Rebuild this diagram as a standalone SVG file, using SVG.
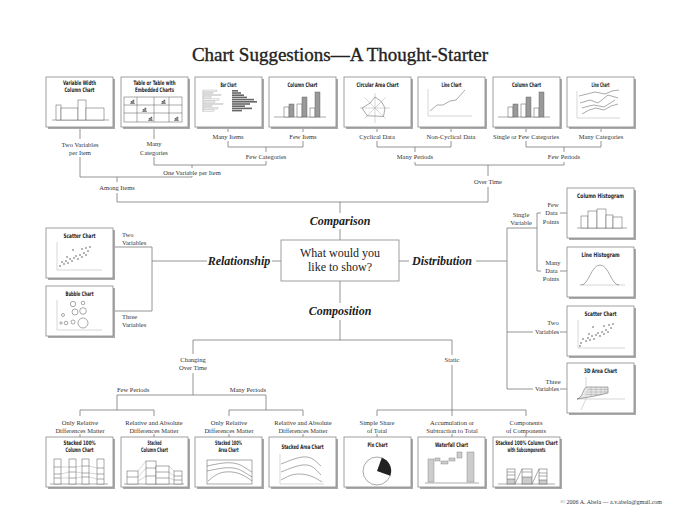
<svg xmlns="http://www.w3.org/2000/svg" xmlns:xlink="http://www.w3.org/1999/xlink" width="680" height="525" viewBox="0 0 680 525">
<style>
.ln{fill:none;stroke:#7a7a7a;stroke-width:0.8}
.lb{font-family:"Liberation Serif",serif;font-size:6.5px;fill:#333;text-anchor:middle}
.ls{font-family:"Liberation Serif",serif;font-size:6.5px;fill:#333}
.tt{font-family:"DejaVu Sans Condensed","DejaVu Sans",sans-serif;font-stretch:condensed;font-weight:bold;font-size:6.2px;fill:#222;text-anchor:middle}
.hd{font-family:"Liberation Serif",serif;font-size:12px;font-weight:bold;font-style:italic;fill:#222;text-anchor:middle}
.q{font-family:"Liberation Serif",serif;font-size:12px;fill:#222;text-anchor:middle}
.c{fill:none;stroke:#555;stroke-width:0.5}
.cf{fill:none;stroke:#999;stroke-width:0.4}
.cw{fill:#fff;stroke:#555;stroke-width:0.5}
.cg{fill:#999;stroke:#555;stroke-width:0.4}
.cl{fill:#ccc;stroke:#777;stroke-width:0.4}
.cd{fill:#666}
.cb{fill:#f2f2f2;stroke:#999;stroke-width:0.3}
.dot{fill:#333}
</style>
<defs>
<g id="fr"><rect x="2" y="2" width="67" height="50" fill="#aaa"/><rect width="67" height="50" fill="#fff" stroke="#888" stroke-width="0.8"/></g>
<g id="mini"><path d="M0 4H5" class="c"/><rect x="1" y="2" width="1.2" height="2" class="cg"/><rect x="2.8" y="0.5" width="1.2" height="3.5" class="cg"/></g>
<g id="colch"><path d="M5 40H57" class="c"/><rect x="15" y="30" width="5" height="10" class="cw"/><rect x="20" y="27" width="5" height="13" class="cg"/><rect x="28" y="27" width="5" height="13" class="cw"/><rect x="33" y="20" width="5" height="20" class="cg"/><rect x="41" y="31" width="5" height="9" class="cw"/><rect x="46" y="15" width="5" height="25" class="cg"/></g>
</defs>
<rect width="680" height="525" fill="#fff"/>
<text x="340" y="61" font-family="'Liberation Serif',serif" font-size="19" fill="#222" stroke="#222" stroke-width="0.35" text-anchor="middle">Chart Suggestions—A Thought-Starter</text>

<g id="connectors">
<path class="ln" d="M80 127V139M154 127V139M228 127V132M303 127V132M377 127V132M451 127V132M526 127V132M601 127V132"/>
<path class="ln" d="M228 141V147H303V141M266 147V152M266 161V165H154V157M192 165V168M80 157V177H192V176M117 177V182M117 193V202H488V187M340 202V213M340 229V240"/>
<path class="ln" d="M377 141V147H451V141M415 147V152M526 141V147H601V141M564 147V152M415 162V165H564V162M488 165V176"/>
<path class="ln" d="M340 281V303M340 320V340M193 340H452M193 340V354M193 373V395M117 395H266M117 395V410M266 395V410M80 416V410H154V416M229 416V410H303V416M80 434V437M154 434V437M229 434V437M303 434V437"/>
<path class="ln" d="M452 340V355M452 365V410M377 416V410H526V416M452 410V416M377 434V437M452 434V437M526 434V437"/>
<path class="ln" d="M113 247H152V311H113M152 261H207M272 261H281"/>
<path class="ln" d="M399 261H409M476 261H507M507 228V389M507 228H537M537 213V271M537 213H541M560 213H567M537 271H541M560 271H567M507 332H533M560 332H567M507 389H533M560 389H567"/>
</g>

<g id="labels">
<text class="lb" x="80" y="147">Two Variables</text><text class="lb" x="80" y="155">per Item</text>
<text class="lb" x="154" y="146">Many</text><text class="lb" x="154" y="155">Categories</text>
<text class="lb" x="228" y="139">Many Items</text>
<text class="lb" x="303" y="139">Few Items</text>
<text class="lb" x="266" y="159">Few Categories</text>
<text class="lb" x="192" y="175">One Variable per Item</text>
<text class="lb" x="117" y="190">Among Items</text>
<text class="lb" x="377" y="139">Cyclical Data</text>
<text class="lb" x="451" y="139">Non-Cyclical Data</text>
<text class="lb" x="526" y="139">Single or Few Categories</text>
<text class="lb" x="601" y="139">Many Categories</text>
<text class="lb" x="415" y="159">Many Periods</text>
<text class="lb" x="564" y="159">Few Periods</text>
<text class="lb" x="488" y="184">Over Time</text>
<text class="ls" x="122" y="237">Two</text><text class="ls" x="122" y="245">Variables</text>
<text class="ls" x="122" y="319">Three</text><text class="ls" x="122" y="327">Variables</text>
<text class="lb" x="521" y="217">Single</text><text class="lb" x="521" y="225">Variable</text>
<text class="lb" x="553" y="207">Few</text><text class="lb" x="551.5" y="215">Data</text><text class="lb" x="551" y="224">Points</text>
<text class="lb" x="553" y="265">Many</text><text class="lb" x="551.5" y="273">Data</text><text class="lb" x="551" y="281">Points</text>
<text class="lb" x="553" y="325">Two</text><text class="lb" x="547" y="334">Variables</text>
<text class="lb" x="553" y="384">Three</text><text class="lb" x="547" y="391">Variables</text>
<text class="lb" x="193" y="362">Changing</text><text class="lb" x="193" y="370">Over Time</text>
<text class="ls" x="117" y="392">Few Periods</text>
<text class="ls" x="266" y="392" text-anchor="end">Many Periods</text>
<text class="lb" x="80" y="425">Only Relative</text><text class="lb" x="80" y="433">Differences Matter</text>
<text class="lb" x="154" y="425">Relative and Absolute</text><text class="lb" x="154" y="433">Differences Matter</text>
<text class="lb" x="229" y="425">Only Relative</text><text class="lb" x="229" y="433">Differences Matter</text>
<text class="lb" x="303" y="425">Relative and Absolute</text><text class="lb" x="303" y="433">Differences Matter</text>
<text class="lb" x="452" y="362">Static</text>
<text class="lb" x="377" y="425">Simple Share</text><text class="lb" x="377" y="433">of Total</text>
<text class="lb" x="452" y="425">Accumulation or</text><text class="lb" x="452" y="433">Subtraction to Total</text>
<text class="lb" x="526" y="425">Components</text><text class="lb" x="526" y="433">of Components</text>
<text class="hd" x="340" y="225">Comparison</text>
<text class="hd" x="239" y="265">Relationship</text>
<text class="hd" x="442" y="265">Distribution</text>
<text class="hd" x="340" y="315">Composition</text>
<text x="662" y="504" font-family="'Liberation Serif',serif" font-size="6" fill="#333" text-anchor="end">© 2006  A. Abela — a.v.abela@gmail.com</text>
</g>

<g id="question">
<rect x="281" y="240" width="118" height="41" fill="#fff" stroke="#888" stroke-width="0.8"/>
<text class="q" x="340" y="257">What would you</text>
<text class="q" x="340" y="271">like to show?</text>
</g>

<g id="variable-width-column" transform="translate(46,77)">
<use href="#fr"/>
<text class="tt" x="33.5" y="8" textLength="33" lengthAdjust="spacingAndGlyphs">Variable Width</text>
<text class="tt" x="33.5" y="15" textLength="30" lengthAdjust="spacingAndGlyphs">Column Chart</text>
<path d="M6 43H63" class="c"/>
<rect x="10" y="28" width="5" height="15" class="cw"/><rect x="15" y="31" width="17" height="12" class="cw"/><rect x="32" y="23" width="8" height="20" class="cw"/><rect x="40" y="31" width="18" height="12" class="cw"/>
</g>

<g id="table-embedded" transform="translate(121,77)">
<use href="#fr"/>
<text class="tt" x="33.5" y="8" textLength="42" lengthAdjust="spacingAndGlyphs">Table or Table with</text>
<text class="tt" x="33.5" y="15" textLength="39" lengthAdjust="spacingAndGlyphs">Embedded Charts</text>
<rect x="3" y="20" width="58" height="25" class="c"/>
<path d="M16 20V45M33 20V45M48 20V45M3 28H61M3 36H61" class="c"/>
<use href="#mini" x="9" y="22.5"/><use href="#mini" x="21" y="30.5"/><use href="#mini" x="40" y="22.5"/><use href="#mini" x="27" y="39.5"/><use href="#mini" x="53" y="39.5"/>
</g>

<g id="bar-chart" transform="translate(195,77)">
<use href="#fr"/>
<text class="tt" x="33.5" y="10" textLength="16" lengthAdjust="spacingAndGlyphs">Bar Chart</text>
<path d="M8 13V35" class="cf"/>
<rect x="8" y="13" width="14" height="1.4" class="cb"/><rect x="8" y="15.2" width="10" height="1.4" class="cb"/><rect x="8" y="17.4" width="18" height="1.4" class="cb"/><rect x="8" y="19.6" width="8" height="1.4" class="cb"/><rect x="8" y="21.8" width="16" height="1.4" class="cb"/><rect x="8" y="24" width="12" height="1.4" class="cb"/><rect x="8" y="26.2" width="20" height="1.4" class="cb"/><rect x="8" y="28.4" width="9" height="1.4" class="cb"/><rect x="8" y="30.6" width="15" height="1.4" class="cb"/><rect x="8" y="32.8" width="11" height="1.4" class="cb"/>
<rect x="37" y="13" width="6" height="1.6" class="cd"/><rect x="37" y="15.2" width="9" height="1.6" class="cd"/><rect x="37" y="17.4" width="12" height="1.6" class="cd"/><rect x="37" y="19.6" width="15" height="1.6" class="cd"/><rect x="37" y="21.8" width="22" height="1.6" class="cd"/><rect x="37" y="24" width="25" height="1.6" class="cd"/><rect x="37" y="26.2" width="18" height="1.6" class="cd"/><rect x="37" y="28.4" width="13" height="1.6" class="cd"/><rect x="37" y="30.6" width="20" height="1.6" class="cd"/><rect x="37" y="32.8" width="10" height="1.6" class="cd"/>
</g>

<g id="column-chart-1" transform="translate(269,77)">
<use href="#fr"/>
<text class="tt" x="33.5" y="10" textLength="30" lengthAdjust="spacingAndGlyphs">Column Chart</text>
<use href="#colch"/>
</g>

<g id="circular-area" transform="translate(344,77)">
<use href="#fr"/>
<text class="tt" x="33.5" y="10" textLength="42" lengthAdjust="spacingAndGlyphs">Circular Area Chart</text>
<path d="M16 31H46M20.4 20.4L41.6 41.6M31 16V46M20.4 41.6L41.6 20.4" class="cf"/>
<polygon points="41,31 39.5,39.5 31,39 23.2,38.8 18,31 26.1,26.1 31,20 37.4,24.6" class="c"/>
</g>

<g id="line-chart-1" transform="translate(418,77)">
<use href="#fr"/>
<text class="tt" x="33.5" y="10" textLength="20" lengthAdjust="spacingAndGlyphs">Line Chart</text>
<path d="M10 12V39H54" class="cf"/>
<polyline points="12,34 19,28 25,28 32,24 38,23 47,13" class="c"/>
</g>

<g id="column-chart-2" transform="translate(493,77)">
<use href="#fr"/>
<text class="tt" x="33.5" y="10" textLength="29" lengthAdjust="spacingAndGlyphs">Column Chart</text>
<use href="#colch"/>
</g>

<g id="line-chart-2" transform="translate(567,77)">
<use href="#fr"/>
<text class="tt" x="33.5" y="10" textLength="18" lengthAdjust="spacingAndGlyphs">Line Chart</text>
<path d="M10 14V41H53" class="cf"/>
<polyline points="12,19 20,17 28,15 38,17 45,14 52,13" class="c"/>
<polyline points="13,26 23,23 31,26 41,18 51,21" class="c"/>
<polyline points="15,31 22,29 27,28 37,30 48,23" class="c"/>
<polyline points="15,37 22,33 29,31 37,33 44,29 51,27" class="c"/>
</g>

<g id="scatter-left" transform="translate(46,228)">
<use href="#fr"/>
<text class="tt" x="33.5" y="10" textLength="32" lengthAdjust="spacingAndGlyphs">Scatter Chart</text>
<path d="M11 14V42H56" class="cf"/>
<g class="dot"><circle cx="14" cy="38" r="0.7"/><circle cx="16" cy="34" r="0.7"/><circle cx="18" cy="36" r="0.7"/><circle cx="20" cy="33" r="0.7"/><circle cx="22" cy="35" r="0.7"/><circle cx="24" cy="31" r="0.7"/><circle cx="26" cy="33" r="0.7"/><circle cx="28" cy="30" r="0.7"/><circle cx="30" cy="28" r="0.7"/><circle cx="32" cy="31" r="0.7"/><circle cx="34" cy="27" r="0.7"/><circle cx="36" cy="29" r="0.7"/><circle cx="38" cy="25" r="0.7"/><circle cx="40" cy="27" r="0.7"/><circle cx="42" cy="23" r="0.7"/><circle cx="27" cy="22" r="0.7"/><circle cx="36" cy="21" r="0.7"/><circle cx="40" cy="20" r="0.7"/><circle cx="44" cy="19" r="0.7"/><circle cx="21" cy="29" r="0.7"/></g>
</g>

<g id="bubble-chart" transform="translate(46,286)">
<use href="#fr"/>
<text class="tt" x="33.5" y="10" textLength="28" lengthAdjust="spacingAndGlyphs">Bubble Chart</text>
<path d="M11 14V44H56" class="cf"/>
<circle cx="27" cy="18" r="2.7" class="c"/><circle cx="37" cy="17" r="1.8" class="c"/><circle cx="17" cy="29" r="1.5" class="c"/><circle cx="29" cy="26" r="3" class="c"/><circle cx="37" cy="25" r="3.3" class="c"/><circle cx="15" cy="37" r="1.2" class="c"/><circle cx="20" cy="37" r="1.8" class="c"/><circle cx="27" cy="36" r="2" class="c"/><circle cx="37" cy="37" r="5" class="c"/>
</g>

<g id="column-histogram" transform="translate(567,188)">
<use href="#fr"/>
<text class="tt" x="33.5" y="10" textLength="47" lengthAdjust="spacingAndGlyphs">Column Histogram</text>
<path d="M10 40H60" class="c"/>
<rect x="14" y="28" width="7" height="12" class="cw"/><rect x="21" y="23" width="9" height="17" class="cw"/><rect x="30" y="21" width="9" height="19" class="cw"/><rect x="39" y="27" width="7" height="13" class="cw"/><rect x="46" y="29" width="9" height="11" class="cw"/>
</g>

<g id="line-histogram" transform="translate(567,247)">
<use href="#fr"/>
<text class="tt" x="33.5" y="10" textLength="38" lengthAdjust="spacingAndGlyphs">Line Histogram</text>
<path d="M12 38H58" class="cf"/>
<path d="M14 38C22 38 24 18 33 18C42 18 44 38 52 38" class="c"/>
</g>

<g id="scatter-right" transform="translate(567,306)">
<use href="#fr"/>
<text class="tt" x="33.5" y="10" textLength="32" lengthAdjust="spacingAndGlyphs">Scatter Chart</text>
<path d="M11 14V42H58" class="cf"/>
<g class="dot"><circle cx="14" cy="37" r="0.7"/><circle cx="16" cy="33" r="0.7"/><circle cx="19" cy="35" r="0.7"/><circle cx="21" cy="32" r="0.7"/><circle cx="23" cy="34" r="0.7"/><circle cx="25" cy="30" r="0.7"/><circle cx="27" cy="33" r="0.7"/><circle cx="29" cy="29" r="0.7"/><circle cx="31" cy="27" r="0.7"/><circle cx="33" cy="30" r="0.7"/><circle cx="35" cy="26" r="0.7"/><circle cx="37" cy="28" r="0.7"/><circle cx="39" cy="24" r="0.7"/><circle cx="41" cy="26" r="0.7"/><circle cx="44" cy="22" r="0.7"/><circle cx="26" cy="21" r="0.7"/><circle cx="37" cy="20" r="0.7"/><circle cx="42" cy="19" r="0.7"/><circle cx="46" cy="18" r="0.7"/><circle cx="22" cy="28" r="0.7"/><circle cx="13" cy="40" r="0.7"/></g>
</g>

<g id="area-3d" transform="translate(567,363)">
<use href="#fr"/>
<text class="tt" x="33.5" y="10" textLength="33" lengthAdjust="spacingAndGlyphs">3D Area Chart</text>
<path d="M19 14V36L14 47M10 36H58" class="cf"/>
<path d="M10 36C16 35 16 24 20 24L41 24L41 30L28 33Z" fill="#e6e6e6" stroke="#555" stroke-width="0.5"/>
<path d="M20 26.5H41M19 29H41M18 31.5H36M24 24V33M29 24V32.5M34 24V31.5M38 24V30.5" class="cf"/>
</g>

<g id="stacked-100-column" transform="translate(46,437)">
<use href="#fr"/>
<text class="tt" x="33.5" y="7.5" textLength="32" lengthAdjust="spacingAndGlyphs">Stacked 100%</text>
<text class="tt" x="33.5" y="15" textLength="28" lengthAdjust="spacingAndGlyphs">Column Chart</text>
<path d="M4 47H62" class="c"/>
<rect x="8" y="22" width="7" height="25" class="cw"/><rect x="23" y="22" width="7" height="25" class="cw"/><rect x="36" y="22" width="7" height="25" class="cw"/><rect x="51" y="22" width="7" height="25" class="cw"/>
<path d="M8 30H15M8 37H15M8 41H15M23 30H30M23 35H30M23 41H30M36 29H43M36 36H43M36 40H43M51 31H58M51 37H58M51 42H58" class="c"/>
<path d="M15 30L23 30M15 37L23 35M15 41L23 41M30 30L36 29M30 35L36 36M30 41L36 40M43 29L51 31M43 36L51 37M43 40L51 42" class="cf"/>
</g>

<g id="stacked-column" transform="translate(121,437)">
<use href="#fr"/>
<text class="tt" x="33.5" y="7.5" textLength="14" lengthAdjust="spacingAndGlyphs">Stacked</text>
<text class="tt" x="33.5" y="15" textLength="27" lengthAdjust="spacingAndGlyphs">Column Chart</text>
<path d="M3 47H63" class="c"/>
<rect x="6" y="34" width="11" height="13" class="cw"/><rect x="25" y="24" width="10" height="23" class="cw"/><rect x="35" y="29" width="13" height="18" class="cw"/><rect x="53" y="34" width="8" height="13" class="cw"/>
<path d="M6 40H17M25 31H35M25 39H35M35 35H48M35 41H48M53 39H61M53 43H61" class="c"/>
<path d="M17 34L25 24M17 40L25 31M17 44L25 39M48 29L53 34M48 35L53 39M48 41L53 43" class="cf"/>
</g>

<g id="stacked-100-area" transform="translate(195,437)">
<use href="#fr"/>
<text class="tt" x="33.5" y="7.5" textLength="27" lengthAdjust="spacingAndGlyphs">Stacked 100%</text>
<text class="tt" x="33.5" y="15" textLength="20" lengthAdjust="spacingAndGlyphs">Area Chart</text>
<rect x="12" y="23" width="45" height="24" class="c"/>
<path d="M12 29C22 27 30 25 38 26C46 27 50 31 57 35" class="c"/>
<path d="M12 34C22 32 30 30 38 31C46 32 50 36 57 40" class="c"/>
<path d="M13 44C18 40 22 36 30 35C40 34 48 37 57 44" class="c"/>
</g>

<g id="stacked-area" transform="translate(269,437)">
<use href="#fr"/>
<text class="tt" x="33.5" y="11.5" textLength="42" lengthAdjust="spacingAndGlyphs">Stacked Area Chart</text>
<path d="M11 17V47H55" class="cf"/>
<path d="M12 27C20 24 30 19 38 20C45 21 48 26 52 29" class="c"/>
<path d="M12 35C20 32 30 27 38 28C45 29 48 34 52 38" class="c"/>
<path d="M12 43C18 40 22 37 30 37C40 37 47 41 53 45" class="c"/>
</g>

<g id="pie-chart" transform="translate(344,437)">
<use href="#fr"/>
<text class="tt" x="33.5" y="10" textLength="20" lengthAdjust="spacingAndGlyphs">Pie Chart</text>
<circle cx="33" cy="34" r="14" fill="#fff" stroke="#555" stroke-width="0.5"/>
<path d="M33 34L37.8 20.8A14 14 0 0 1 46.2 38.8Z" fill="#222"/>
</g>

<g id="waterfall-chart" transform="translate(418,437)">
<use href="#fr"/>
<text class="tt" x="33.5" y="10" textLength="33" lengthAdjust="spacingAndGlyphs">Waterfall Chart</text>
<path d="M7 46H61" class="c"/>
<rect x="10" y="22" width="6" height="23" class="cl"/><rect x="17" y="21" width="5" height="3" class="cl"/><rect x="23" y="24" width="7" height="3" class="cl"/><rect x="31" y="21" width="6" height="3" class="cl"/><rect x="39" y="15" width="5" height="6" class="cl"/><rect x="49" y="15" width="7" height="30" class="cl"/>
</g>

<g id="stacked-100-subcomponents" transform="translate(493,437)">
<use href="#fr"/>
<text class="tt" x="33.5" y="7.5" textLength="62" lengthAdjust="spacingAndGlyphs">Stacked 100% Column Chart</text>
<text class="tt" x="33.5" y="15" textLength="38" lengthAdjust="spacingAndGlyphs">with Subcomponents</text>
<path d="M5 47H62" class="c"/>
<rect x="14" y="42" width="8" height="5" fill="#ccc"/><rect x="29" y="40" width="10" height="7" fill="#ccc"/><rect x="46" y="43" width="8" height="4" fill="#ccc"/>
<rect x="14" y="32" width="8" height="15" class="c"/><rect x="29" y="32" width="10" height="15" class="c"/><rect x="46" y="32" width="8" height="15" class="c"/>
<path d="M14 35H22M14 38H22M14 42H22M29 35H39M29 40H39M46 36H54M46 39H54M46 43H54M22 47L29 32M39 47L46 32" class="c"/>
</g>
</svg>
